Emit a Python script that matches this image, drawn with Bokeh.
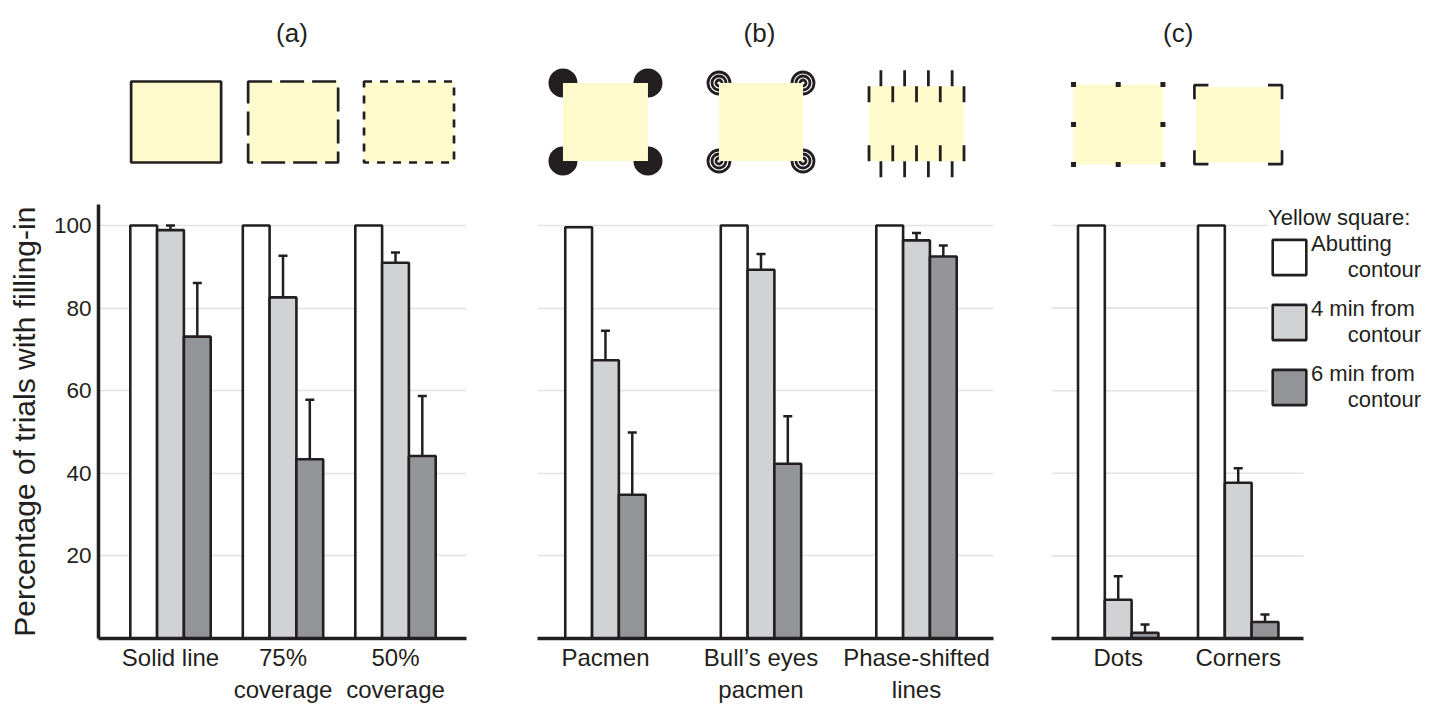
import math
from bokeh.plotting import figure
from bokeh.models import (Range1d, LinearAxis, FixedTicker, Grid, Whisker, TeeHead,
                          ColumnDataSource, Legend, LegendItem)
from bokeh.layouts import row
from bokeh.embed import file_html
from bokeh.resources import INLINE
from bokeh.core.properties import value

# ---------------- data ----------------
cats_a = ["Solid line", "75%\ncoverage", "50%\ncoverage"]
abut_a = [100, 100, 100]
min4_a = [98.9, 82.6, 91.0]
min4_a_top = [100.0, 92.7, 93.5]
min6_a = [73.1, 43.4, 44.2]
min6_a_top = [86.1, 57.8, 58.7]

cats_b = ["Pacmen", "Bull\u2019s eyes\npacmen", "Phase-shifted\nlines"]
abut_b = [99.6, 100, 100]
min4_b = [67.4, 89.3, 96.4]
min4_b_top = [74.5, 93.1, 98.2]
min6_b = [34.8, 42.3, 92.5]
min6_b_top = [49.9, 53.8, 95.2]

cats_c = ["Dots", "Corners"]
abut_c = [100, 100]
min4_c = [9.4, 37.7]
min4_c_top = [15.1, 41.2]
min6_c = [1.4, 4.0]
min6_c_top = [3.4, 5.8]

panel_titles = ["(a)", "(b)", "(c)"]
series_labels = ["Abutting\ncontour", "4 min from\ncontour", "6 min from\ncontour"]
legend_title = "Yellow square:"
y_ticks = [20, 40, 60, 80, 100]
y_label = "Percentage of trials with filling-in"
y_axis_bounds = (0, 105)

# ---------------- style ----------------
FONT = "Liberation Sans"
INK = "#231f20"
FILLS = ["#ffffff", "#d1d2d4", "#939598"]
YELLOW = "#fffbcc"
GRID = "#e3e3e3"
H = 705
FRAME_H = 638
BAR_PX = 26.8
NBSP = "\u00a0"
Y_END = 154.5
YR = Range1d(0, Y_END)
ICO_RANGE = (-516.5, 121.5)


def hide_default_grids(p):
    for g in list(p.xgrid) + list(p.ygrid):
        g.visible = False


def base_fig(width, bl, br, xr):
    p = figure(width=width, height=H, x_range=Range1d(*xr), y_range=YR,
               x_axis_location=None, y_axis_location=None, toolbar_location=None,
               output_backend="svg", title=None,
               min_border_left=bl, min_border_right=br, min_border_top=0,
               min_border_bottom=H - FRAME_H, outline_line_color=None,
               background_fill_color="white", border_fill_color="white")
    hide_default_grids(p)
    p.extra_y_ranges = {"ico": Range1d(*ICO_RANGE)}
    return p


def add_grid(p):
    p.add_layout(Grid(dimension=1, ticker=FixedTicker(ticks=y_ticks),
                      grid_line_color=GRID, grid_line_width=1.6))


def add_xaxis(p, cats, bounds="auto"):
    ax = LinearAxis(ticker=FixedTicker(ticks=list(range(len(cats)))), bounds=bounds,
                    major_label_overrides={i: c for i, c in enumerate(cats)},
                    axis_line_width=3.5, axis_line_color=INK,
                    major_tick_line_color=None, major_tick_out=0, major_tick_in=0,
                    minor_tick_line_color=None, minor_tick_out=0,
                    major_label_text_font_size="24px", major_label_text_font=FONT,
                    major_label_text_color=INK, major_label_standoff=5)
    p.add_layout(ax, "below")


def add_bars(p, n, series, tops, bar_w):
    rends = []
    for k, vals in enumerate(series):
        xs = [i + (k - 1) * bar_w for i in range(n)]
        r = p.vbar(x=xs, top=vals, bottom=0, width=bar_w, fill_color=FILLS[k],
                   line_color=INK, line_width=2.6)
        rends.append(r)
        if tops[k] is not None:
            src = ColumnDataSource(dict(base=xs, lower=vals, upper=tops[k]))
            w = Whisker(source=src, base="base", lower="lower", upper="upper",
                        dimension="height", line_color=INK, line_width=2.5,
                        upper_head=TeeHead(size=9, line_color=INK, line_width=2.5),
                        lower_head=None, level="annotation")
            p.add_layout(w)
    return rends


def add_title(p, x, text):
    p.text(x=[x], y=[89], text=[text], y_range_name="ico", text_align="center",
           text_baseline="middle", text_font=value(FONT), text_font_size="26px",
           text_color=INK)


def yrect(p, x, y, w, h, **kw):
    args = dict(fill_color=YELLOW, line_color=None)
    args.update(kw)
    p.rect(x=x, y=y, width=w, height=h, width_units="screen", height_units="screen",
           y_range_name="ico", **args)


# ---------------- y label strip (shares the y scale of panel a) ----------------
WL = 46
pl = figure(width=WL, height=H, x_range=Range1d(0, WL), y_range=YR,
            x_axis_location=None, y_axis_location=None, toolbar_location=None,
            output_backend="svg", title=None, min_border_left=0, min_border_right=0,
            min_border_top=0, min_border_bottom=H - FRAME_H, outline_line_color=None,
            background_fill_color="white", border_fill_color="white")
hide_default_grids(pl)
pl.text(x=[24], y=[sum(y_axis_bounds) / 2], text=[y_label], angle=math.pi / 2,
        text_align="center", text_baseline="middle", text_font=value(FONT),
        text_font_size="30px", text_color=INK)

# ---------------- panel (a) ----------------
WA, BLA, BRA, XRA = 486 - WL, 98 - WL, 20, (-0.64, 2.631)
pa = base_fig(WA, BLA, BRA, XRA)
add_grid(pa)
kxa = (XRA[1] - XRA[0]) / (WA - BLA - BRA)
add_bars(pa, 3, [abut_a, min4_a, min6_a], [None, min4_a_top, min6_a_top], BAR_PX * kxa)
add_xaxis(pa, cats_a)
yax = LinearAxis(ticker=FixedTicker(ticks=y_ticks), bounds=y_axis_bounds,
                 axis_line_width=3.5, axis_line_color=INK,
                 major_tick_line_color=None, major_tick_out=0, major_tick_in=0,
                 minor_tick_line_color=None, minor_tick_out=0,
                 major_label_text_font_size="22.5px", major_label_text_font=FONT,
                 major_label_text_color=INK, major_label_standoff=7)
pa.add_layout(yax, "left")
add_title(pa, 1.08, panel_titles[0])
icon_xa = [0.05, 1.09, 2.12]
for x, dash in zip(icon_xa, ["solid", "24 8", "8 8"]):
    yrect(pa, [x], [0], 90, 81, line_color=INK, line_width=2.7, line_dash=dash)

# ---------------- panel (b) ----------------
WB, BLB, BRB, XRB = 527, 51, 20, (-0.437, 2.495)
pb = base_fig(WB, BLB, BRB, XRB)
add_grid(pb)
kxb = (XRB[1] - XRB[0]) / (WB - BLB - BRB)
add_bars(pb, 3, [abut_b, min4_b, min6_b], [None, min4_b_top, min6_b_top], BAR_PX * kxb)
add_xaxis(pb, cats_b)
add_title(pb, 0.99, panel_titles[1])
# pacmen
cx, hw, hh = 0.0, 42.5, 39
pb.scatter(x=[cx - hw * kxb, cx + hw * kxb] * 2, y=[hh, hh, -hh, -hh], size=29,
           marker="circle", fill_color=INK, line_color=None, y_range_name="ico")
yrect(pb, [cx], [0], 2 * hw, 2 * hh)
# bull's eyes
cx, hw, hh = 1.0, 42, 39
for r in [11, 7, 3]:
    pb.scatter(x=[cx - hw * kxb, cx + hw * kxb] * 2, y=[hh, hh, -hh, -hh], size=2 * r,
               marker="circle", fill_color=None, line_color=INK, line_width=2.8,
               y_range_name="ico")
yrect(pb, [cx], [0], 2 * hw, 2 * hh)
# phase-shifted lines
cx, hw, hh, cy, step, ln = 2.0, 47.5, 37.5, -1.8, 23.75, 16
yrect(pb, [cx], [cy], 2 * hw, 2 * hh)
inner = [cx + (-hw + step * k) * kxb for k in range(5)]
outer = [cx + (-hw + step / 2 + step * k) * kxb for k in range(4)]
pb.rect(x=inner * 2, y=[cy + hh - ln / 2] * 5 + [cy - hh + ln / 2] * 5, width=2.8, height=ln,
        width_units="screen", height_units="screen", fill_color=INK, line_color=None,
        y_range_name="ico")
pb.rect(x=outer * 2, y=[cy + hh + ln / 2] * 4 + [cy - hh - ln / 2] * 4, width=2.8, height=ln,
        width_units="screen", height_units="screen", fill_color=INK, line_color=None,
        y_range_name="ico")

# ---------------- panel (c) ----------------
WC, BLC = 1432 - 486 - 527, 38
XC_AXIS = (-0.556, 1.544)
FRAME_WC = WC - BLC
XRC = (XC_AXIS[0], XC_AXIS[0] + FRAME_WC / 120.0)
pc = base_fig(WC, BLC, 0, XRC)
kxc = (XRC[1] - XRC[0]) / FRAME_WC
pc.segment(x0=[XC_AXIS[0]] * len(y_ticks), x1=[XC_AXIS[1]] * len(y_ticks),
           y0=y_ticks, y1=y_ticks, line_color=GRID, line_width=1.6, level="underlay")
rc = add_bars(pc, 2, [abut_c, min4_c, min6_c], [None, min4_c_top, min6_c_top], BAR_PX * kxc)
add_xaxis(pc, cats_c, bounds=XC_AXIS)
add_title(pc, 0.5, panel_titles[2])
# dots
cx, hw, hh, cy = 0.0, 44.7, 40, -2.5
yrect(pc, [cx], [cy], 2 * hw, 2 * hh)
dx = [-hw, 0, hw, -hw, hw, -hw, 0, hw]
dy = [hh, hh, hh, 0, 0, -hh, -hh, -hh]
pc.scatter(x=[cx + d * kxc for d in dx], y=[cy + d for d in dy], size=5, marker="square",
           fill_color=INK, line_color=None, y_range_name="ico")
# corners
cx, cy = 1.0, -2.7
yrect(pc, [cx], [cy], 84, 76)
bx, by, arm = 43.8, 39.5, 14
xs, ys = [], []
for sx in (-1, 1):
    for sy in (-1, 1):
        xs.append([cx + sx * bx * kxc, cx + sx * bx * kxc, cx + sx * (bx - arm) * kxc])
        ys.append([cy + sy * (by - arm), cy + sy * by, cy + sy * by])
pc.multi_line(xs=xs, ys=ys, line_color=INK, line_width=2.7, y_range_name="ico")

items = [LegendItem(label=lab.replace("\n", "\n" + NBSP * 6), renderers=[r])
         for lab, r in zip(series_labels, rc)]
legend = Legend(items=items, location=(217, 225), title=legend_title,
                title_text_font=FONT, title_text_font_size="22px",
                title_text_font_style="normal", title_text_color=INK, title_standoff=-3,
                label_text_font=FONT, label_text_font_size="22px", label_text_color=INK,
                glyph_width=42, glyph_height=44, label_standoff=1, label_height=46,
                spacing=13, padding=18, margin=0, border_line_color=None,
                background_fill_color="white", background_fill_alpha=1.0)
pc.add_layout(legend)

layout = row(pl, pa, pb, pc)
open("out.html", "w").write(file_html(layout, INLINE))
